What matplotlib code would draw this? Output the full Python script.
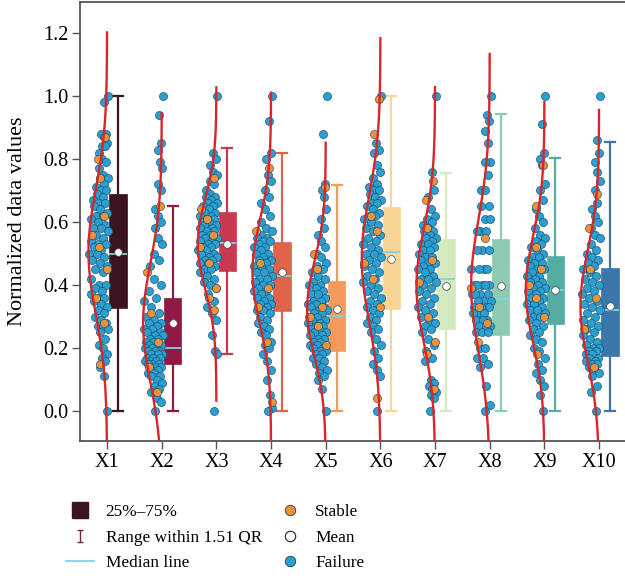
import numpy as np
import matplotlib
matplotlib.use('Agg')
import matplotlib.pyplot as plt
from matplotlib.lines import Line2D
from matplotlib.path import Path

plt.rcParams['font.family'] = ['Liberation Serif', 'DejaVu Serif']

#%% Datos de entrada
labels = ['X1', 'X2', 'X3', 'X4', 'X5', 'X6', 'X7', 'X8', 'X9', 'X10']

failure = [
    [1.00, 0.98, 0.88, 0.88, 0.87, 0.85, 0.84, 0.84, 0.82, 0.80, 0.79, 0.77, 0.75, 0.74, 0.74, 0.72, 0.71, 0.70, 0.70, 0.69,
     0.68, 0.67, 0.66, 0.66, 0.65, 0.64, 0.63, 0.62, 0.62, 0.61, 0.60, 0.59, 0.58, 0.58, 0.57, 0.56, 0.55, 0.54, 0.53, 0.53,
     0.52, 0.51, 0.50, 0.50, 0.49, 0.48, 0.47, 0.46, 0.45, 0.44, 0.42, 0.40, 0.40, 0.39, 0.38, 0.37, 0.36, 0.36, 0.35, 0.34,
     0.33, 0.32, 0.31, 0.30, 0.29, 0.28, 0.27, 0.27, 0.26, 0.25, 0.23, 0.21, 0.20, 0.18, 0.17, 0.16, 0.14, 0.11, 0.00],
    [1.00, 0.94, 0.85, 0.83, 0.79, 0.77, 0.72, 0.70, 0.64, 0.62, 0.60, 0.58, 0.55, 0.53, 0.50, 0.48, 0.46, 0.42, 0.40, 0.38,
     0.36, 0.35, 0.33, 0.31, 0.30, 0.29, 0.28, 0.28, 0.27, 0.26, 0.26, 0.25, 0.25, 0.24, 0.24, 0.23, 0.23, 0.22, 0.22, 0.21,
     0.21, 0.20, 0.20, 0.20, 0.19, 0.19, 0.19, 0.18, 0.18, 0.18, 0.17, 0.17, 0.17, 0.16, 0.16, 0.16, 0.15, 0.15, 0.15, 0.14,
     0.14, 0.13, 0.13, 0.12, 0.12, 0.11, 0.11, 0.10, 0.09, 0.08, 0.07, 0.06, 0.04, 0.03, 0.00],
    [1.00, 0.82, 0.80, 0.78, 0.76, 0.75, 0.73, 0.72, 0.70, 0.69, 0.68, 0.68, 0.67, 0.66, 0.66, 0.65, 0.65, 0.64, 0.63, 0.63,
     0.62, 0.62, 0.61, 0.61, 0.60, 0.60, 0.59, 0.59, 0.58, 0.58, 0.57, 0.57, 0.56, 0.56, 0.55, 0.55, 0.54, 0.54, 0.53, 0.53,
     0.52, 0.52, 0.51, 0.51, 0.50, 0.50, 0.49, 0.49, 0.48, 0.48, 0.47, 0.47, 0.46, 0.45, 0.45, 0.44, 0.43, 0.42, 0.41, 0.40,
     0.39, 0.37, 0.35, 0.33, 0.31, 0.29, 0.24, 0.19, 0.18, 0.00],
    [1.00, 0.92, 0.82, 0.80, 0.75, 0.73, 0.70, 0.68, 0.66, 0.64, 0.62, 0.60, 0.58, 0.57, 0.56, 0.55, 0.55, 0.54, 0.54, 0.53,
     0.52, 0.52, 0.51, 0.50, 0.50, 0.49, 0.48, 0.48, 0.47, 0.46, 0.46, 0.45, 0.44, 0.44, 0.43, 0.42, 0.42, 0.41, 0.40, 0.40,
     0.39, 0.38, 0.38, 0.37, 0.36, 0.36, 0.35, 0.34, 0.34, 0.33, 0.32, 0.32, 0.31, 0.30, 0.29, 0.28, 0.27, 0.26, 0.25, 0.24,
     0.22, 0.21, 0.20, 0.18, 0.16, 0.13, 0.10, 0.05, 0.01, 0.00],
    [1.00, 0.88, 0.72, 0.70, 0.68, 0.64, 0.61, 0.58, 0.56, 0.54, 0.52, 0.50, 0.49, 0.47, 0.46, 0.45, 0.44, 0.43, 0.42, 0.41,
     0.40, 0.40, 0.39, 0.38, 0.37, 0.37, 0.36, 0.35, 0.35, 0.34, 0.34, 0.33, 0.33, 0.32, 0.32, 0.31, 0.31, 0.30, 0.30, 0.29,
     0.29, 0.28, 0.28, 0.27, 0.27, 0.26, 0.26, 0.25, 0.25, 0.24, 0.24, 0.23, 0.23, 0.22, 0.22, 0.21, 0.21, 0.20, 0.20, 0.19,
     0.19, 0.18, 0.18, 0.17, 0.17, 0.16, 0.15, 0.14, 0.13, 0.12, 0.11, 0.10, 0.07, 0.00],
    [1.00, 0.85, 0.83, 0.82, 0.78, 0.76, 0.74, 0.72, 0.71, 0.70, 0.70, 0.69, 0.68, 0.67, 0.66, 0.66, 0.65, 0.64, 0.63, 0.62,
     0.62, 0.61, 0.60, 0.59, 0.58, 0.57, 0.56, 0.55, 0.54, 0.53, 0.52, 0.51, 0.50, 0.50, 0.49, 0.48, 0.47, 0.46, 0.45, 0.44,
     0.43, 0.42, 0.41, 0.40, 0.39, 0.38, 0.37, 0.36, 0.35, 0.34, 0.33, 0.32, 0.31, 0.30, 0.29, 0.28, 0.27, 0.26, 0.25, 0.23,
     0.21, 0.19, 0.17, 0.15, 0.13, 0.11, 0.00],
    [1.00, 0.76, 0.70, 0.68, 0.64, 0.62, 0.61, 0.60, 0.59, 0.58, 0.57, 0.57, 0.56, 0.55, 0.55, 0.54, 0.53, 0.53, 0.52, 0.51,
     0.51, 0.50, 0.49, 0.49, 0.48, 0.47, 0.47, 0.46, 0.45, 0.45, 0.44, 0.43, 0.42, 0.42, 0.41, 0.40, 0.39, 0.38, 0.37, 0.36,
     0.35, 0.34, 0.33, 0.32, 0.31, 0.30, 0.29, 0.28, 0.27, 0.26, 0.25, 0.23, 0.21, 0.19, 0.17, 0.16, 0.10, 0.09, 0.08, 0.07,
     0.06, 0.05, 0.04, 0.00],
    [1.00, 0.94, 0.92, 0.89, 0.85, 0.79, 0.79, 0.75, 0.70, 0.70, 0.65, 0.65, 0.61, 0.61, 0.57, 0.57, 0.57, 0.51, 0.51, 0.51,
     0.45, 0.45, 0.45, 0.45, 0.40, 0.40, 0.40, 0.40, 0.40, 0.37, 0.37, 0.37, 0.37, 0.35, 0.35, 0.35, 0.33, 0.33, 0.33, 0.33,
     0.31, 0.31, 0.31, 0.29, 0.29, 0.29, 0.29, 0.27, 0.27, 0.27, 0.25, 0.25, 0.25, 0.20, 0.20, 0.17, 0.17, 0.15, 0.14, 0.08,
     0.02, 0.00],
    [1.00, 0.91, 0.82, 0.80, 0.78, 0.72, 0.70, 0.67, 0.64, 0.62, 0.60, 0.58, 0.56, 0.55, 0.54, 0.53, 0.52, 0.51, 0.50, 0.49,
     0.49, 0.48, 0.47, 0.47, 0.46, 0.45, 0.45, 0.44, 0.43, 0.43, 0.42, 0.41, 0.41, 0.40, 0.39, 0.39, 0.38, 0.38, 0.37, 0.36,
     0.36, 0.35, 0.34, 0.34, 0.33, 0.32, 0.32, 0.31, 0.30, 0.30, 0.29, 0.28, 0.27, 0.26, 0.25, 0.24, 0.23, 0.22, 0.20, 0.19,
     0.17, 0.15, 0.13, 0.12, 0.10, 0.08, 0.05, 0.00],
    [1.00, 0.86, 0.82, 0.79, 0.76, 0.73, 0.70, 0.66, 0.64, 0.62, 0.60, 0.58, 0.56, 0.55, 0.53, 0.51, 0.50, 0.49, 0.48, 0.47,
     0.46, 0.45, 0.44, 0.43, 0.42, 0.41, 0.40, 0.39, 0.38, 0.37, 0.36, 0.35, 0.34, 0.33, 0.32, 0.31, 0.30, 0.29, 0.28, 0.27,
     0.26, 0.25, 0.24, 0.23, 0.22, 0.21, 0.20, 0.20, 0.19, 0.19, 0.18, 0.18, 0.17, 0.17, 0.16, 0.16, 0.15, 0.15, 0.14, 0.13,
     0.12, 0.11, 0.08, 0.06, 0.00],
]

stable = [
    [0.87, 0.80, 0.74, 0.62, 0.56, 0.52, 0.45, 0.36, 0.28, 0.15],
    [0.65, 0.44, 0.31, 0.22, 0.14, 0.06],
    [0.74, 0.64, 0.61, 0.56, 0.52, 0.47, 0.39, 0.36, 0.32],
    [0.77, 0.57, 0.47, 0.39, 0.33, 0.22, 0.03],
    [0.71, 0.50, 0.45, 0.33, 0.30, 0.27, 0.21],
    [0.99, 0.88, 0.62, 0.57, 0.47, 0.42, 0.33, 0.04],
    [0.73, 0.67, 0.58, 0.48, 0.41, 0.30, 0.22, 0.18, 0.07],
    [0.55, 0.39, 0.33, 0.28, 0.22],
    [0.78, 0.65, 0.52, 0.45, 0.40, 0.36, 0.30, 0.18],
    [0.69, 0.58, 0.45, 0.36, 0.26, 0.14],
]

# Estadisticos de las cajas
q1 = [0.327, 0.150, 0.444, 0.317, 0.192, 0.323, 0.260, 0.240, 0.277, 0.175]
mediana = [0.499, 0.201, 0.532, 0.430, 0.303, 0.505, 0.418, 0.357, 0.383, 0.320]
q3 = [0.688, 0.360, 0.633, 0.535, 0.413, 0.647, 0.547, 0.547, 0.492, 0.453]
bigote_inf = [0.0, 0.0, 0.18, 0.0, 0.0, 0.0, 0.0, 0.0, 0.0, 0.0]
bigote_sup = [1.0, 0.651, 0.834, 0.820, 0.716, 1.0, 0.757, 0.943, 0.803, 0.853]
media = [0.505, 0.280, 0.530, 0.440, 0.323, 0.483, 0.398, 0.398, 0.385, 0.333]
desv = [0.199, 0.190, 0.142, 0.163, 0.151, 0.200, 0.180, 0.210, 0.170, 0.178]

colores = ['#3c1420', '#8e1a45', '#c93a50', '#e0644a', '#f39a5c',
           '#f9d595', '#d4e9bd', '#8ccbb0', '#55aca2', '#3b76ad']
azul = '#2a9fd2'
naranja = '#ec923b'
rojo = '#d8262a'
celeste = '#7fd3e6'

#%% Grafica
fig = plt.figure(figsize=(6.25, 5.79), dpi=100)
ax = fig.add_axes([0.128, 0.2383, 0.876, 0.7582])

posiciones = np.arange(1, len(labels) + 1)

for i, pos in enumerate(posiciones):
    # nube de puntos a la izquierda de cada posicion
    for vals, col in ((failure[i], azul), (stable[i], naranja)):
        y = np.array(vals)
        z = (y - media[i]) / desv[i]
        ancho = 0.10 + 0.27 * np.exp(-0.5 * z ** 2)
        frac = (np.arange(len(y)) * 0.618034 + 0.37 * (col == naranja)) % 1
        ax.scatter(pos + 0.02 - frac * ancho, y, s=34, color=col,
                   edgecolor='#1d4f6a', linewidth=0.45, zorder=3)

    # curva normal
    yy = np.linspace(media[i] - 3.5 * desv[i], media[i] + 3.5 * desv[i], 200)
    xx = pos - 0.34 * np.exp(-0.5 * ((yy - media[i]) / desv[i]) ** 2)
    ax.plot(xx, yy, color=rojo, lw=1.7, zorder=4)

    stats = [dict(q1=q1[i], med=mediana[i], q3=q3[i], whislo=bigote_inf[i],
                  whishi=bigote_sup[i], mean=media[i], fliers=[])]
    ax.bxp(stats, positions=[pos + 0.2], widths=0.32, patch_artist=True,
           showmeans=True, showfliers=False, capwidths=0.18,
           boxprops=dict(facecolor=colores[i], edgecolor=colores[i], linewidth=0.5),
           whiskerprops=dict(color=colores[i], linewidth=1.6),
           capprops=dict(color=colores[i], linewidth=1.6),
           medianprops=dict(color=celeste, linewidth=1.3),
           meanprops=dict(marker='o', markerfacecolor='white',
                          markeredgecolor='#444444', markeredgewidth=0.5, markersize=5.5),
           zorder=2)

ax.set_xlim(0.505, 10.52)
ax.set_ylim(-0.095, 1.298)
ax.set_xticks(posiciones)
ax.set_xticklabels(labels, fontsize=14.5)
ax.set_yticks(np.arange(0, 1.21, 0.2))
ax.set_yticklabels([f'{v:.1f}' for v in np.arange(0, 1.21, 0.2)], fontsize=14.5)
ax.set_ylabel('Normalized data values', fontsize=16)
ax.yaxis.set_label_coords(-0.097, 0.5)
for s in ax.spines.values():
    s.set_color('#555555')
    s.set_linewidth(1.3)
ax.tick_params(direction='out', length=5.5, width=1, color='#555555', pad=3)

#%% Leyenda
ibeam = Path([(-0.5, 1), (0.5, 1), (0, 1), (0, -1), (-0.5, -1), (0.5, -1)],
             [Path.MOVETO, Path.LINETO, Path.MOVETO, Path.LINETO, Path.MOVETO, Path.LINETO])
handles = [
    Line2D([], [], marker='s', markersize=11, color=colores[0], linestyle='none'),
    Line2D([], [], marker=ibeam, markersize=9, color='#7a2040', markeredgewidth=1.0,
           markerfacecolor='none', linestyle='none'),
    Line2D([], [], color=celeste, lw=1.3),
    Line2D([], [], marker='o', markersize=7.5, markerfacecolor=naranja,
           markeredgecolor='#333333', markeredgewidth=0.6, linestyle='none'),
    Line2D([], [], marker='o', markersize=7.5, markerfacecolor='white',
           markeredgecolor='#222222', markeredgewidth=0.8, linestyle='none'),
    Line2D([], [], marker='o', markersize=7.5, markerfacecolor=azul,
           markeredgecolor='#333333', markeredgewidth=0.6, linestyle='none'),
]
textos = ['25%–75%', 'Range within 1.51 QR', 'Median line', 'Stable', 'Mean', 'Failure']
fig.legend(handles, textos, loc='upper left', bbox_to_anchor=(0.092, 0.144),
           ncol=2, frameon=False, fontsize=12.4, handlelength=1.6,
           handletextpad=0.7, columnspacing=0.8, labelspacing=0.55, borderpad=0)

fig.savefig('out.png', dpi=100)
